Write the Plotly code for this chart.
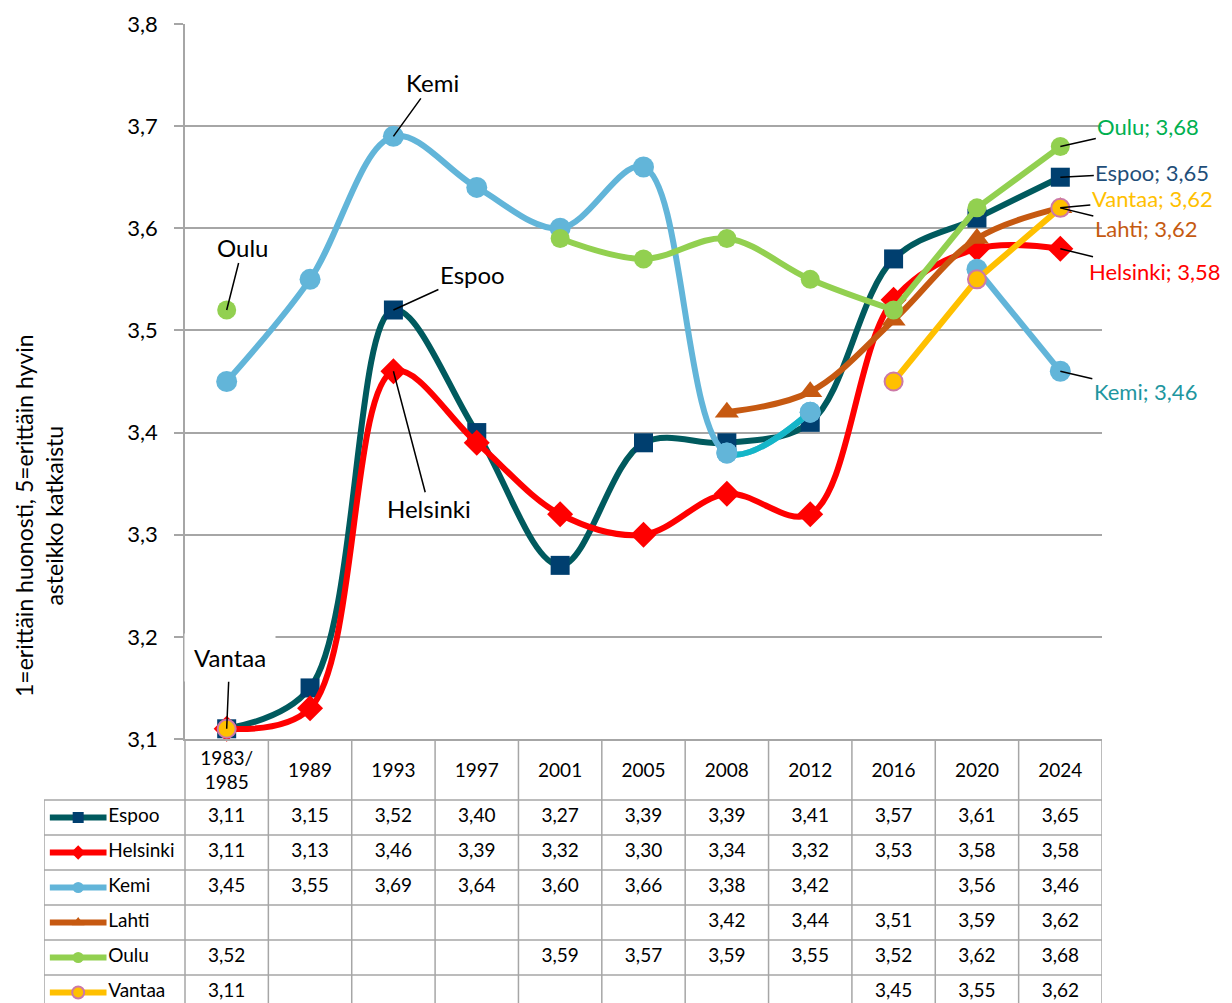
import plotly.graph_objects as go

# ---- data ----
years = ['1983/<br>1985', '1989', '1993', '1997', '2001', '2005',
         '2008', '2012', '2016', '2020', '2024']
series_names = ['Espoo', 'Helsinki', 'Kemi', 'Lahti', 'Oulu', 'Vantaa']

espoo = [3.11, 3.15, 3.52, 3.40, 3.27, 3.39, 3.39, 3.41, 3.57, 3.61, 3.65]
helsinki = [3.11, 3.13, 3.46, 3.39, 3.32, 3.30, 3.34, 3.32, 3.53, 3.58, 3.58]
kemi = [3.45, 3.55, 3.69, 3.64, 3.60, 3.66, 3.38, 3.42, None, 3.56, 3.46]
lahti = [None, None, None, None, None, None, 3.42, 3.44, 3.51, 3.59, 3.62]
oulu = [3.52, None, None, None, 3.59, 3.57, 3.59, 3.55, 3.52, 3.62, 3.68]
vantaa = [3.11, None, None, None, None, None, None, None, 3.45, 3.55, 3.62]

values = {'Espoo': espoo, 'Helsinki': helsinki, 'Kemi': kemi,
          'Lahti': lahti, 'Oulu': oulu, 'Vantaa': vantaa}

# which index runs are drawn smoothed / straight
spline_runs = {'Espoo': [(0, 10)], 'Helsinki': [(0, 10)], 'Kemi': [(0, 7)],
               'Lahti': [(6, 10)], 'Oulu': [(4, 8)], 'Vantaa': []}
straight_runs = {'Espoo': [], 'Helsinki': [], 'Kemi': [(9, 10)],
                 'Lahti': [], 'Oulu': [(8, 10)], 'Vantaa': [(8, 10)]}
kemi_highlight = (6, 7)  # 2008-2012 part of Kemi drawn in another colour

# ---- styles ----
FONT = 'Lato'
GRID = '#A6A6A6'
styles = {
    'Espoo': dict(line='#005A5E', marker='#003F6F', symbol='square', size=19, mline='#003F6F'),
    'Helsinki': dict(line='#FF0000', marker='#FF0000', symbol='diamond', size=20, mline='#FF0000'),
    'Kemi': dict(line='#62B5D9', marker='#62B5D9', symbol='circle', size=21, mline='#62B5D9'),
    'Lahti': dict(line='#C65911', marker='#C65911', symbol='triangle-up', size=21, mline='#C65911'),
    'Oulu': dict(line='#92D050', marker='#92D050', symbol='circle', size=19, mline='#92D050'),
    'Vantaa': dict(line='#FFC000', marker='#FFC000', symbol='circle', size=18, mline='#CC79A7'),
}
KEMI_EXTRA = '#14B6C8'
LW = 6

x_idx = list(range(len(years)))


def run_points(vals, a, b):
    xs = [i for i in range(a, b + 1) if vals[i] is not None]
    return xs, [vals[i] for i in xs]


fig = go.Figure()


def add_series(name):
    st = styles[name]
    vals = values[name]
    for a, b in spline_runs[name]:
        xs, ys = run_points(vals, a, b)
        fig.add_trace(go.Scatter(x=xs, y=ys, mode='lines', showlegend=False, hoverinfo='skip',
                                 line=dict(color=st['line'], width=LW, shape='spline', smoothing=1.0),
                                 cliponaxis=False))
    for a, b in straight_runs[name]:
        xs, ys = run_points(vals, a, b)
        fig.add_trace(go.Scatter(x=xs, y=ys, mode='lines', showlegend=False, hoverinfo='skip',
                                 line=dict(color=st['line'], width=LW), cliponaxis=False))
    xs, ys = run_points(vals, 0, len(vals) - 1)
    fig.add_trace(go.Scatter(x=xs, y=ys, mode='markers', name=name, showlegend=False,
                             marker=dict(color=st['marker'], symbol=st['symbol'], size=st['size'],
                                         line=dict(color=st['mline'], width=2 if name == 'Vantaa' else 0)),
                             cliponaxis=False))


for n in series_names:
    add_series(n)

# Kemi 2008-2012: same smoothed curve, clipped to that interval on its own axes
xs, ys = run_points(kemi, *spline_runs['Kemi'][0])
fig.add_trace(go.Scatter(x=xs, y=ys, mode='lines', showlegend=False, hoverinfo='skip',
                         line=dict(color=KEMI_EXTRA, width=LW, shape='spline', smoothing=1.0, simplify=False),
                         xaxis='x3', yaxis='y3', cliponaxis=True))
hx, hy = run_points(kemi, *kemi_highlight)
fig.add_trace(go.Scatter(x=hx, y=hy, mode='markers', showlegend=False,
                         marker=dict(color=styles['Kemi']['marker'], size=styles['Kemi']['size']),
                         xaxis='x3', yaxis='y3', cliponaxis=False))

# ---- geometry (reference pixels; page body offsets the figure by 8px) ----
OFF = 8
W, H = 1232 - OFF, 1003 - OFF
px_left, px_plot_left, px_right = 44, 185, 1102
px_top, px_table_top = 24, 739
col_w = (px_right - px_plot_left) / len(years)
row_h = 35
header_h = 61 / row_h
x_left = -0.5 - (px_plot_left - px_left) / col_w
y_top = -0.5 - header_h
y_bottom = y_top + (1003 - px_table_top) / row_h


def fx(px):
    return (px - OFF) / W


def fy(px):
    return 1 - (px - OFF) / H


# header years
fig.add_trace(go.Scatter(x=x_idx, y=[(y_top - 0.5) / 2 + 0.08] * len(years), text=years, mode='text',
                         textfont=dict(family=FONT, size=19, color='#000000'),
                         xaxis='x2', yaxis='y2', showlegend=False, hoverinfo='skip'))


def fmt(v):
    return '' if v is None else f'{v:.2f}'.replace('.', ',')


for r, name in enumerate(series_names):
    vals = values[name]
    fig.add_trace(go.Scatter(x=x_idx, y=[r] * len(vals), text=[fmt(v) for v in vals], mode='text',
                             textfont=dict(family=FONT, size=19, color='#000000'),
                             xaxis='x2', yaxis='y2', showlegend=False, hoverinfo='skip'))
    st = styles[name]
    key_x = [x_left + 0.07, x_left + 0.41, x_left + 0.75]
    fig.add_trace(go.Scatter(x=[key_x[0], key_x[2]], y=[r, r], mode='lines',
                             line=dict(color=st['line'], width=LW), xaxis='x2', yaxis='y2',
                             showlegend=False, hoverinfo='skip'))
    fig.add_trace(go.Scatter(x=[key_x[1]], y=[r], mode='markers',
                             marker=dict(color=st['marker'], symbol=st['symbol'], size=11 if name != 'Vantaa' else 12,
                                         line=dict(color=st['mline'], width=2 if name == 'Vantaa' else 0)),
                             xaxis='x2', yaxis='y2', showlegend=False, hoverinfo='skip'))
    fig.add_trace(go.Scatter(x=[key_x[2] + 0.02], y=[r], text=[name], mode='text', textposition='middle right',
                             textfont=dict(family=FONT, size=19, color='#000000'),
                             xaxis='x2', yaxis='y2', showlegend=False, hoverinfo='skip'))

shapes = []
line_style = dict(color=GRID, width=1.5)
for k in range(len(years) + 1):
    shapes.append(dict(type='line', xref='x2', yref='y2', x0=k - 0.5, x1=k - 0.5,
                       y0=y_top, y1=len(series_names) - 0.5, line=line_style))
shapes.append(dict(type='line', xref='x2', yref='y2', x0=x_left, x1=x_left,
                   y0=-0.5, y1=len(series_names) - 0.5, line=line_style))
for r in range(len(series_names) + 1):
    shapes.append(dict(type='line', xref='x2', yref='y2', x0=x_left, x1=len(years) - 0.5,
                       y0=r - 0.5, y1=r - 0.5, line=line_style))

# ---- annotations ----
ann = []
label_font = dict(family=FONT, size=24, color='#000000')
callouts = [  # (text, series, index, ax, ay)
    ('Kemi', 'Kemi', 2, 39, -54),
    ('Oulu', 'Oulu', 0, 16, -63),
    ('Espoo', 'Espoo', 2, 79, -36),
    ('Helsinki', 'Helsinki', 2, 36, 137),
]
for text, s, i, ax, ay in callouts:
    ann.append(dict(x=i, y=values[s][i], xref='x', yref='y', text=text, showarrow=True,
                    ax=ax, ay=ay, arrowhead=0, arrowwidth=1.5, arrowcolor='#000000', font=label_font))
ann.append(dict(x=0, y=vantaa[0], xref='x', yref='y', text='Vantaa', showarrow=True, ax=3, ay=-71,
                arrowhead=0, arrowwidth=1.5, arrowcolor='#000000', font=label_font,
                bgcolor='#FFFFFF', borderpad=9))

end_labels = [  # (series, colour, ax, ay)
    ('Oulu', '#00B050', 88, -20),
    ('Espoo', '#1F4E79', 92, -5),
    ('Vantaa', '#FFC000', 92, -9),
    ('Lahti', '#C55A11', 86, 21),
    ('Helsinki', '#FF0000', 94, 23),
    ('Kemi', '#1E96A0', 85, 20),
]
last = len(years) - 1
for s, col, ax, ay in end_labels:
    ann.append(dict(x=last, y=values[s][last], xref='x', yref='y', text=f'{s}; {fmt(values[s][last])}',
                    showarrow=True, ax=ax, ay=ay, arrowhead=0, arrowwidth=1.5, arrowcolor='#000000',
                    font=dict(family=FONT, size=22, color=col)))

ann.append(dict(x=fx(39), y=fy(516), xref='paper', yref='paper', showarrow=False, textangle=-90,
                xanchor='center', yanchor='middle',
                text='1=erittäin huonosti, 5=erittäin hyvin<br>asteikko katkaistu',
                font=dict(family=FONT, size=23, color='#000000')))

main_xdom = [fx(px_plot_left), fx(px_right)]
main_ydom = [fy(px_table_top), fy(px_top)]
hl_xdom = [fx(px_plot_left + (kemi_highlight[0] + 0.5) * col_w),
           fx(px_plot_left + (kemi_highlight[1] + 0.5) * col_w)]

fig.update_layout(
    width=W, height=H,
    margin=dict(l=0, r=0, t=0, b=0, autoexpand=False),
    paper_bgcolor='white', plot_bgcolor='rgba(0,0,0,0)',
    separators=', ',
    font=dict(family=FONT, color='#000000'),
    showlegend=False,
    xaxis=dict(domain=main_xdom, range=[-0.5, len(years) - 0.5],
               showticklabels=False, showgrid=False, zeroline=False, ticks='',
               showline=True, linecolor=GRID, linewidth=1.5),
    yaxis=dict(domain=main_ydom, range=[3.1, 3.8], dtick=0.1,
               tickformat='.1f', showgrid=True, gridcolor=GRID, gridwidth=1.5, zeroline=False,
               showline=True, linecolor=GRID, linewidth=1.5, ticks='outside', ticklen=9,
               tickcolor=GRID, tickwidth=1.5, ticklabelstandoff=12,
               tickfont=dict(family=FONT, size=22, color='#000000')),
    xaxis2=dict(domain=[fx(px_left), fx(px_right)], range=[x_left, len(years) - 0.5],
                visible=False, anchor='y2'),
    yaxis2=dict(domain=[0, fy(px_table_top)], range=[y_bottom, y_top],
                visible=False, anchor='x2'),
    xaxis3=dict(domain=hl_xdom, range=list(kemi_highlight), visible=False, anchor='y3'),
    yaxis3=dict(domain=main_ydom, range=[3.1, 3.8], visible=False, anchor='x3'),
    shapes=shapes,
    annotations=ann,
)

fig.write_html('out.html')
